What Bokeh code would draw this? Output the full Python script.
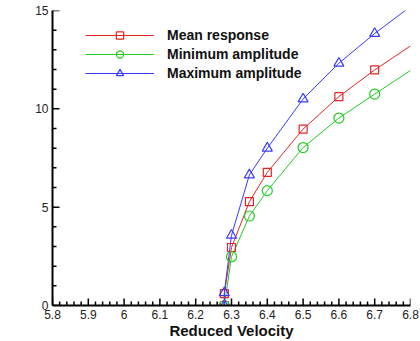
import numpy as np
from bokeh.plotting import figure
from bokeh.models import (Range1d, FixedTicker, CustomJSTickFormatter,
                          Legend, LegendItem, Label, ColumnDataSource)
from bokeh.embed import file_html
from bokeh.resources import INLINE

# Reduced velocity at which each LCO amplitude was computed
velocity = [6.28, 6.28, 6.30, 6.35, 6.40, 6.50, 6.60, 6.70]
mean_response = [0.0, 0.60, 2.95, 5.28, 6.77, 8.97, 10.62, 11.98]
max_amplitude = [0.0, 0.65, 3.57, 6.64, 8.00, 10.50, 12.32, 13.83]
velocity_min = [6.28, 6.30, 6.35, 6.40, 6.50, 6.60, 6.70]
min_amplitude = [0.0, 2.48, 4.55, 5.84, 8.03, 9.53, 10.75]

# Trend curves continue past the last computed point to the edge of the axis
v_end = 6.8
mean_end = 13.2
min_end = 11.95
max_end = 15.2

x_ticks = [5.8, 5.9, 6.0, 6.1, 6.2, 6.3, 6.4, 6.5, 6.6, 6.7, 6.8]
y_ticks = [0, 5, 10, 15]

FONT = "Liberation Sans"
RED = "#e42424"
GREEN = "#24cc24"
BLUE = "#3a3aff"

X0, X1, Y0, Y1 = 5.8, 6.8, 0.0, 15.0
FRAME_W, FRAME_H = 358, 296

p = figure(width=420, height=341, output_backend="svg", toolbar_location=None,
           x_range=Range1d(X0, X1), y_range=Range1d(Y0, Y1),
           min_border_left=52, min_border_right=10, min_border_top=10,
           min_border_bottom=35)
p.outline_line_color = None
p.xgrid.visible = False
p.ygrid.visible = False
p.background_fill_color = "white"
p.border_fill_color = "white"

x_minor = [round(X0 + 0.02 * i, 2) for i in range(51)]
y_minor = list(range(0, 16))
p.xaxis.ticker = FixedTicker(ticks=x_ticks, minor_ticks=[])
p.yaxis.ticker = FixedTicker(ticks=y_ticks, minor_ticks=[])
p.xaxis.formatter = CustomJSTickFormatter(code="return Number(tick.toFixed(2)).toString();")

for ax in (p.xaxis[0], p.yaxis[0]):
    ax.axis_line_width = 2
    ax.axis_line_color = "black"
    ax.major_tick_out = 0
    ax.major_tick_in = 0
    ax.minor_tick_out = 0
    ax.minor_tick_in = 0
    ax.major_label_text_font = FONT
    ax.major_label_text_font_size = "12px"
    ax.major_label_text_color = "#222222"
    ax.major_label_standoff = 4

p.xaxis.axis_label = "Reduced Velocity"
p.xaxis.axis_label_text_font = FONT
p.xaxis.axis_label_text_font_style = "bold"
p.xaxis.axis_label_text_font_size = "15px"
p.xaxis.axis_label_text_color = "#111111"
p.xaxis.axis_label_standoff = 0

# Inward-pointing tick marks (major 7 px, minor 4 px), drawn inside the frame
px_x = (X1 - X0) / FRAME_W   # data units per pixel, horizontal
px_y = (Y1 - Y0) / FRAME_H   # data units per pixel, vertical
xmin_ = [t for t in x_minor if all(abs(t - m) > 1e-6 for m in x_ticks)]
ymin_ = [float(t) for t in y_minor if t not in y_ticks]

tx0, ty0, tx1, ty1 = [], [], [], []
for t, n in [(float(t), 7) for t in x_ticks] + [(t, 4) for t in xmin_]:
    tx0.append(t); ty0.append(Y0); tx1.append(t); ty1.append(Y0 + n * px_y)
x_ticks_src = ColumnDataSource(dict(x0=tx0, y0=ty0, x1=tx1, y1=ty1))
p.segment(x0="x0", y0="y0", x1="x1", y1="y1", source=x_ticks_src,
          line_color="black", line_width=1.5)

# Ticks on the vertical axis as short horizontal dash markers
yt, yx, ys = [], [], []
for t, n in [(float(t), 7) for t in y_ticks] + [(t, 4) for t in ymin_]:
    yt.append(t); yx.append(X0 + 0.5 * n * px_x); ys.append(n)
y_ticks_src = ColumnDataSource(dict(x=yx, y=yt, size=ys))
p.scatter(x="x", y="y", size="size", marker="dash", source=y_ticks_src,
          line_color="black", line_width=1.5)

# Lines through the computed points, extended to the right edge
l_mean = p.line(velocity + [v_end], mean_response + [mean_end], line_color=RED, line_width=1)
l_min = p.line(velocity_min + [v_end], min_amplitude + [min_end], line_color=GREEN, line_width=1)
l_max = p.line(velocity + [v_end], max_amplitude + [max_end], line_color=BLUE, line_width=1)

s_mean = p.scatter(velocity, mean_response, marker="square", size=8,
                   line_color=RED, fill_color=None, line_width=1.2)
s_min = p.scatter(velocity_min, min_amplitude, marker="circle", size=10,
                  line_color=GREEN, fill_color=None, line_width=1.2)
s_max = p.scatter(velocity, max_amplitude, marker="triangle", size=10,
                  line_color=BLUE, fill_color=None, line_width=1.2)

legend = Legend(items=[
    LegendItem(label="Mean response", renderers=[l_mean, s_mean]),
    LegendItem(label="Minimum amplitude", renderers=[l_min, s_min]),
    LegendItem(label="Maximum amplitude", renderers=[l_max, s_max]),
], location=(33, 223), orientation="vertical",
    glyph_width=69, glyph_height=18, label_height=18, spacing=1,
    padding=0, margin=0, label_standoff=13,
    border_line_color=None, background_fill_alpha=0,
    label_text_font=FONT, label_text_font_style="bold",
    label_text_font_size="14px", label_text_color="#111111")
p.add_layout(legend, "center")

# Vertical axis title: alpha with an "LCO" subscript, then the unit
title_style = dict(angle=np.pi / 2, text_align="center", text_baseline="middle",
                   text_font=FONT, text_font_style="bold", text_color="#111111")
p.add_layout(Label(x=5.7148, y=5.42, text="α", text_font_size="15px", **title_style))
p.add_layout(Label(x=5.7236, y=6.28, text="LCO", text_font_size="9px", **title_style))
p.add_layout(Label(x=5.7148, y=8.41, text="(degrees)", text_font_size="15px", **title_style))

open("out.html", "w").write(file_html(p, INLINE))
